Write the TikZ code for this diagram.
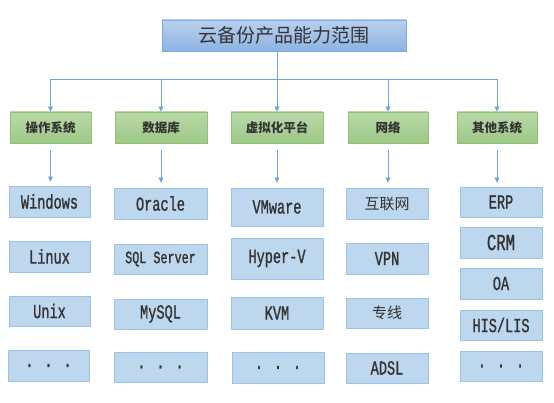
\documentclass[tikz,border=0pt]{standalone}
\usepackage{fontspec}
\setmainfont{Liberation Mono}
\newfontfamily\cjk{Noto Sans CJK SC}
\newfontfamily\mono[FakeStretch=0.68,FakeBold=1]{Liberation Mono}
\usetikzlibrary{arrows.meta}
\definecolor{txt}{HTML}{333333}
\definecolor{lineblue}{HTML}{6FA3DC}
\definecolor{titletop}{HTML}{B9D0EE}
\definecolor{titlebot}{HTML}{8DB3E2}
\definecolor{titledraw}{HTML}{7DAADF}
\definecolor{cattop}{HTML}{BAD9A8}
\definecolor{catbot}{HTML}{9DC887}
\definecolor{catdraw}{HTML}{8FC173}
\definecolor{itemfill}{HTML}{BDD7EE}
\definecolor{itemdraw}{HTML}{9CC2E5}
\tikzset{
  titlebox/.style={draw=titledraw, line width=0.9pt, top color=titletop, bottom color=titlebot, inner sep=0pt, text=txt, font=\cjk\fontsize{19}{19}\selectfont},
  catbox/.style={draw=catdraw, line width=0.9pt, top color=cattop, bottom color=catbot, inner sep=0pt, text=txt, font=\cjk\bfseries\fontsize{12.5}{12.5}\selectfont},
  itembox/.style={draw=itemdraw, line width=0.9pt, fill=itemfill, inner sep=0pt, text=txt, font=\mono\fontsize{20}{20}\selectfont},
  conn/.style={draw=lineblue, line width=0.8pt},
  arr/.style={conn, -{Triangle[width=5pt,length=5pt]}, color=lineblue},
}
\newcommand\bx[7]{%
  \pgfmathsetmacro\bw{#5-#3}\pgfmathsetmacro\bh{#6-#4}%
  \pgfmathsetmacro\bcx{(#3+#5)/2}\pgfmathsetmacro\bcy{(#4+#6)/2}%
  \node[#2, minimum width=\bw pt, minimum height=\bh pt] (#1) at (\bcx,\bcy) {#7};}
\begin{document}
\begin{tikzpicture}[x=1pt,y=-1pt]
\path[use as bounding box, fill=white] (0,0) rectangle (554,403);
% title
\bx{title}{titlebox}{162}{20}{406}{51}{云备份产品能力范围}
% categories
\bx{c1}{catbox}{10}{112}{91}{143}{操作系统}
\bx{c2}{catbox}{115}{112}{207}{143}{数据库}
\bx{c3}{catbox}{231}{112}{323}{143}{虚拟化平台}
\bx{c4}{catbox}{348}{112}{428}{143}{网络}
\bx{c5}{catbox}{457}{112}{537}{143}{其他系统}
% column 1
\bx{a1}{itembox}{9}{186}{90}{217}{Windows}
\bx{a2}{itembox}{9}{241}{90}{272}{Linux}
\bx{a3}{itembox}{9}{296}{90}{326}{Unix}
\bx{a4}{itembox}{8}{350}{89}{381}{. . .}
% column 2
\bx{b1}{itembox}{114}{188}{207}{219}{Oracle}
\bx{b2}{itembox, font=\mono\fontsize{17.3}{17.3}\selectfont}{114}{244}{207}{274}{SQL Server}
\bx{b3}{itembox}{114}{299}{207}{329}{MySQL}
\bx{b4}{itembox}{114}{352}{207}{382}{. . .}
% column 3
\bx{v1}{itembox}{231}{188}{323}{226}{VMware}
\bx{v2}{itembox}{231}{238}{323}{279}{Hyper-V}
\bx{v3}{itembox}{231}{297}{323}{329}{KVM}
\bx{v4}{itembox}{232}{352}{324}{383}{. . .}
% column 4
\bx{n1}{itembox, font=\cjk\fontsize{15}{15}\selectfont}{346}{188}{428}{219}{互联网}
\bx{n2}{itembox}{346}{243}{428}{274}{VPN}
\bx{n3}{itembox, font=\cjk\fontsize{15}{15}\selectfont}{346}{298}{428}{328}{专线}
\bx{n4}{itembox}{346}{353}{428}{383}{ADSL}
% column 5
\bx{o1}{itembox}{460}{187}{542}{217}{ERP}
\bx{o2}{itembox, font=\mono\fontsize{23}{23}\selectfont}{460}{227}{542}{258}{CRM}
\bx{o3}{itembox}{460}{268}{542}{299}{OA}
\bx{o4}{itembox}{460}{310}{542}{340}{HIS/LIS}
\bx{o5}{itembox}{460}{351}{542}{381}{. . .}
% connectors: title to categories
\coordinate (bar) at (0,79);
\draw[conn] (title.south -| c3.north) -- (c3.north |- bar);
\draw[conn] (c1.north |- bar) -- (c5.north |- bar);
\foreach \c in {c1,c2,c3,c4,c5}{
  \draw[arr] (\c.north |- bar) -- (\c.north);
}
% connectors: categories to first items
\draw[arr, shorten <=7pt, shorten >=4pt] (c1.south) -- (c1.south |- a1.north);
\draw[arr, shorten <=7pt, shorten >=5pt] (c2.south) -- (c2.south |- b1.north);
\draw[arr, shorten <=7pt, shorten >=5pt] (c3.south) -- (c3.south |- v1.north);
\draw[arr, shorten <=7pt, shorten >=5pt] (c4.south) -- (c4.south |- n1.north);
\draw[arr, shorten <=7pt, shorten >=4pt] (c5.south) -- (c5.south |- o1.north);
\end{tikzpicture}
\end{document}
